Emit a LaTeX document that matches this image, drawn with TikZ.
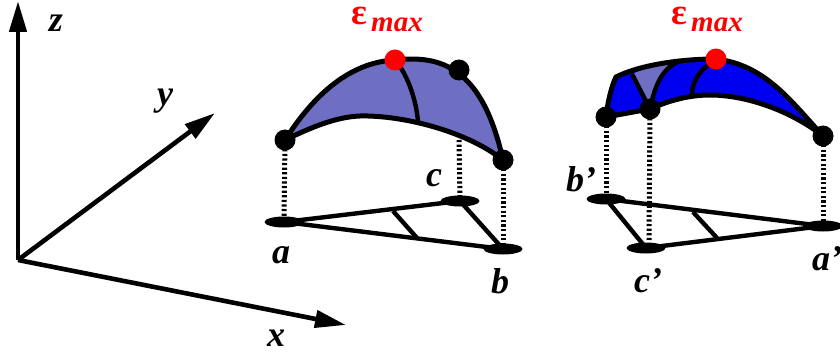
\documentclass[tikz,border=0pt]{standalone}
\usepackage{fontspec}
\setmainfont{Liberation Serif}
\usetikzlibrary{arrows.meta,shapes.geometric}
\definecolor{lightblue}{RGB}{110,110,195}
\definecolor{deepblue}{RGB}{0,0,240}
\tikzset{
  every picture/.style={x=1pt,y=-1pt},
  axis/.style={line width=4.6pt,-{Triangle[length=31pt,width=17pt]}},
  edge/.style={line width=5pt,line join=round},
  thin edge/.style={line width=4.4pt},
  base/.style={line width=4.4pt},
  drop/.style={line width=5pt,dash pattern=on 2.2pt off 2.4pt},
  ball/.style={circle,fill=black,inner sep=0pt,minimum size=21pt},
  redball/.style={circle,fill=red,inner sep=0pt,minimum size=21pt},
  pad/.style={ellipse,fill=black,inner sep=0pt,minimum width=39pt,minimum height=11pt},
  lab/.style={font=\fontsize{36}{36}\selectfont\bfseries\itshape,inner sep=0pt},
  eps/.style={font=\fontsize{37}{37}\selectfont\bfseries,text=red,inner sep=0pt},
  mx/.style={font=\fontsize{29}{29}\selectfont\bfseries\itshape,text=red,inner sep=0pt},
}
\begin{document}
\begin{tikzpicture}
\useasboundingbox (0,0) rectangle (840,358);
% axes
\coordinate (O) at (18,260);
\coordinate (Z) at (18,1);
\coordinate (Y) at (215,113);
\coordinate (X) at (346,325);
\draw[axis] (O) -- (Z);
\draw[axis] (O) -- (Y);
\draw[axis] (O) -- (X);
\node[lab] (lz) at (56,23) {z};
\node[lab] (ly) at (165,101) {y};
\node[lab] (lx) at (276,338) {x};

% left: anchors
\coordinate (A) at (285,140);
\coordinate (R) at (395,60);
\coordinate (K) at (459,70);
\coordinate (B) at (503,160);
\coordinate (M) at (418,121);
\coordinate (C) at (459,140);
% left surface
\fill[lightblue] (A) .. controls (318,88) and (355,62) .. (R)
  .. controls (440,55) and (482,66) .. (B)
  .. controls (465,130) and (400,115) .. (360,116)
  .. controls (335,117) and (310,128) .. (A) -- cycle;
\draw[edge] (A) .. controls (318,88) and (355,62) .. (R)
  .. controls (440,55) and (482,66) .. (B);
\draw[edge] (A) .. controls (310,128) and (335,117) .. (360,116)
  .. controls (400,115) and (465,130) .. (B);
\draw[thin edge] (R) .. controls (408,75) and (416,100) .. (M);
% left base
\node[pad] (pa) at (284,222) {};
\node[pad] (pc) at (460,201) {};
\node[pad] (pb) at (503,249) {};
\coordinate (q1) at (393,211);
\coordinate (q2) at (417,238);
\draw[base] (pa.center) -- (pc.center);
\draw[base] (pa.center) -- (pb.center);
\draw[base] (pc.center) -- (pb.center);
\draw[base] (q1) -- (q2);
\draw[drop] (A) -- (284,218);
\draw[drop] (C) -- (pc.center);
\draw[drop] (B) -- (pb.center);
\node[ball] (ba) at (A) {};
\node[ball] (bk) at (K) {};
\node[ball] (bb) at (B) {};
\node[redball] (br) at (R) {};
\node[lab] (la) at (281,255) {a};
\node[lab] (lb) at (500,281) {b};
\node[lab] (lc) at (434,178) {c};
\node[eps] (e1) at (359,16) {ε};
\node[mx] (m1) at (397,25) {max};

% right: anchors
\coordinate (Bp) at (606,117);
\coordinate (Cp) at (650,109);
\coordinate (Rp) at (716,59);
\coordinate (Ap) at (823,136);
\coordinate (Tp) at (616,77);
\coordinate (Lt) at (632,74);
\coordinate (Lm) at (680,61);
\coordinate (Sp) at (692,95);
% right surface
\fill[deepblue] (Bp) -- (Tp) .. controls (640,65) and (680,59) .. (Rp)
  .. controls (765,65) and (790,100) .. (Ap)
  .. controls (790,110) and (745,95) .. (710,95)
  .. controls (690,95) and (670,100) .. (Cp) -- cycle;
\fill[lightblue] (Lt) .. controls (645,68) and (665,62) .. (Lm)
  .. controls (665,70) and (655,85) .. (Cp) -- cycle;
\draw[edge] (Bp) .. controls (608,100) and (612,85) .. (Tp)
  .. controls (640,65) and (680,59) .. (Rp)
  .. controls (765,65) and (790,100) .. (Ap);
\draw[edge] (Bp) -- (Cp) .. controls (670,100) and (690,95) .. (710,95)
  .. controls (745,95) and (790,110) .. (Ap);
\draw[thin edge] (Lt) -- (Cp);
\draw[thin edge] (Cp) .. controls (655,85) and (662,68) .. (Lm);
\draw[thin edge] (Sp) .. controls (692,80) and (700,70) .. (Rp);
% right base
\node[pad] (pap) at (823,226) {};
\node[pad] (pbp) at (606,199) {};
\node[pad] (pcp) at (646,248) {};
\coordinate (q3) at (693,212);
\coordinate (q4) at (717,238);
\draw[base] (pbp.center) -- (pap.center);
\draw[base] (pcp.center) -- (pap.center);
\draw[base] (pbp.center) -- (pcp.center);
\draw[base] (q3) -- (q4);
\draw[drop] (Bp) -- (pbp.center);
\draw[drop] (Cp) -- (649,240);
\draw[drop] (Ap) -- (pap.center);
\node[ball] (bbp) at (Bp) {};
\node[ball] (bcp) at (Cp) {};
\node[ball] (bap) at (Ap) {};
\node[redball] (brp) at (Rp) {};
\node[lab,anchor=west] (lap) at (812,259) {a’};
\node[lab] (lbp) at (581,179) {b’};
\node[lab] (lcp) at (648,281) {c’};
\node[eps] (e2) at (679,16) {ε};
\node[mx] (m2) at (717,25) {max};
\end{tikzpicture}
\end{document}
